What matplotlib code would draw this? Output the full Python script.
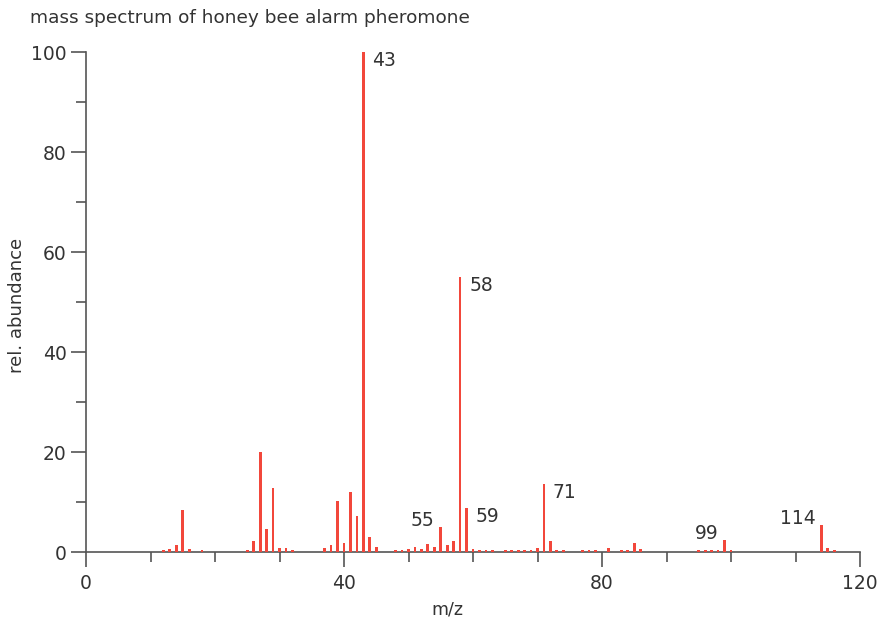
import matplotlib.pyplot as plt
from matplotlib.ticker import MultipleLocator

# m/z values and relative abundances (base peak = 100)
mz = [12, 13, 14, 15, 16, 18,
      25, 26, 27, 28, 29, 30, 31, 32,
      37, 38, 39, 40, 41, 42, 43, 44, 45,
      48, 49, 50, 51, 52, 53, 54, 55, 56, 57, 58, 59, 60, 61, 62, 63,
      65, 66, 67, 68, 69, 70, 71, 72, 73, 74,
      77, 78, 79,
      81, 83, 84, 85, 86,
      95, 96, 97, 98, 99, 100,
      114, 115, 116]
abundance = [0.5, 0.6, 1.5, 8.4, 0.6, 0.4,
             0.4, 2.3, 20.0, 4.6, 12.8, 0.8, 0.8, 0.4,
             0.8, 1.5, 10.3, 1.9, 12.1, 7.2, 100.0, 3.0, 1.0,
             0.5, 0.5, 0.7, 1.0, 0.6, 1.6, 1.0, 5.0, 1.4, 2.2, 55.0, 8.9, 0.7, 0.5, 0.4, 0.5,
             0.4, 0.4, 0.5, 0.4, 0.5, 0.8, 13.7, 2.2, 0.5, 0.4,
             0.4, 0.4, 0.4,
             0.8, 0.4, 0.4, 1.9, 0.6,
             0.4, 0.4, 0.4, 0.4, 2.4, 0.5,
             5.4, 0.8, 0.4]

# peaks that get a label, and on which side of the line it sits
labels_right = [43, 58, 59, 71]
labels_left = [55, 99, 114]

RED = '#f2473b'
TXT = '#333333'
AX = '#555555'

fig = plt.figure(figsize=(8.81, 6.22), dpi=100)
W, H = 881, 622
ax = fig.add_axes([86 / W, (H - 552) / H, (860 - 86) / W, 500 / H])

# bars sit on top of the axis line
ax.bar(mz, abundance, width=0.42, color=RED, linewidth=0, zorder=3)

peak = dict(zip(mz, abundance))
for m in labels_right:
    ax.annotate(str(m), (m, peak[m]), xytext=(9, 1), textcoords='offset pixels',
                ha='left', va='top', fontsize=13.5, color=TXT)
for m in labels_left:
    ax.annotate(str(m), (m, peak[m]), xytext=(-6, 1), textcoords='offset pixels',
                ha='right', va='baseline', fontsize=13.5, color=TXT)

ax.set_xlim(0, 120)
ax.set_ylim(0, 100)
ax.xaxis.set_major_locator(MultipleLocator(40))
ax.xaxis.set_minor_locator(MultipleLocator(10))
ax.yaxis.set_major_locator(MultipleLocator(20))
ax.yaxis.set_minor_locator(MultipleLocator(10))

for side in ['top', 'right']:
    ax.spines[side].set_visible(False)
for side in ['left', 'bottom']:
    ax.spines[side].set_color(AX)
    ax.spines[side].set_linewidth(1.2)
    ax.spines[side].set_zorder(2)

ax.tick_params(which='major', length=10.5, width=1.2, color=AX, labelsize=13.5, labelcolor=TXT)
ax.tick_params(which='minor', length=7, width=1.2, color=AX)
ax.tick_params(axis='y', which='major', pad=3.5)
ax.tick_params(axis='x', which='major', pad=5.5)

ax.set_xlabel('m/z', fontsize=12.5, color=TXT)
ax.set_ylabel('rel. abundance', fontsize=13, color=TXT)
ax.xaxis.set_label_coords((447 - 86) / (860 - 86), -(610 - 552) / 500)
ax.yaxis.set_label_coords((17 - 86) / (860 - 86), (552 - 305) / 500)
ax.xaxis.label.set_va('center')
ax.yaxis.label.set_va('center')

fig.text(30 / W, 1 - 18 / H, 'mass spectrum of honey bee alarm pheromone',
         fontsize=13.3, color=TXT, ha='left', va='center')

fig.savefig('out.png', dpi=100)
